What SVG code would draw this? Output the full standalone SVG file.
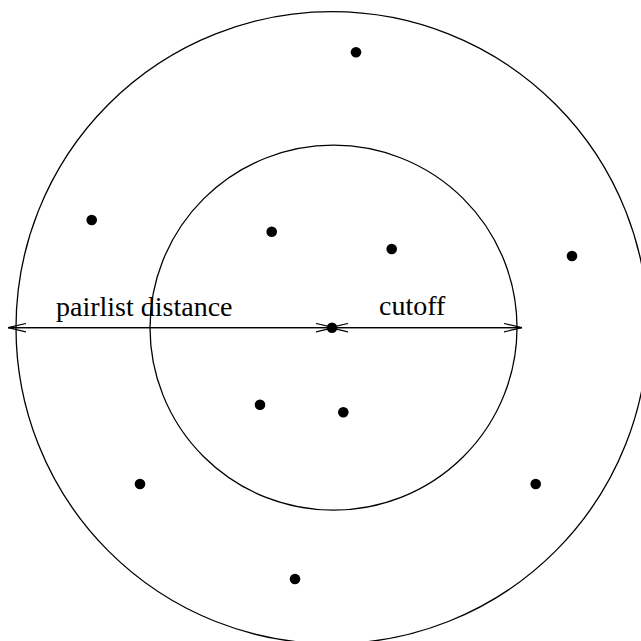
<svg xmlns="http://www.w3.org/2000/svg" width="641" height="641" viewBox="0 0 641 641">
<style>
.ring{fill:none;stroke:#000;stroke-width:1.3}
.pt{fill:#000}
.ln{stroke:#000;stroke-width:1.3;fill:none}
.lbl{font-family:"Liberation Serif","Times New Roman",serif;font-size:28px;fill:#000}
</style>
<defs>
<marker id="ah" viewBox="0 0 18 10" refX="18" refY="5" markerWidth="18" markerHeight="10" markerUnits="userSpaceOnUse" orient="auto">
<path d="M0,0.8 L18,5 L0,9.2" fill="none" stroke="#000" stroke-width="1.2"/>
</marker>
</defs>
<rect width="641" height="641" fill="#fff"/>
<g id="outer-circle"><circle class="ring" cx="332" cy="327.7" r="316"/></g>
<g id="inner-circle"><ellipse class="ring" cx="333.5" cy="327.7" rx="183.5" ry="182.5"/></g>
<g id="connectors">
<line class="ln" x1="332" y1="327.7" x2="8" y2="327.7" marker-end="url(#ah)"/>
<line class="ln" x1="8" y1="327.7" x2="334" y2="327.7" marker-end="url(#ah)"/>
<line class="ln" x1="332" y1="327.7" x2="522" y2="327.7" marker-end="url(#ah)"/>
<line class="ln" x1="522" y1="327.7" x2="330" y2="327.7" marker-end="url(#ah)"/>
</g>
<g id="points">
<circle class="pt" cx="356" cy="52.3" r="5.3"/>
<circle class="pt" cx="91.7" cy="220" r="5.3"/>
<circle class="pt" cx="271.7" cy="231.7" r="5.3"/>
<circle class="pt" cx="391.7" cy="249" r="5.3"/>
<circle class="pt" cx="572" cy="256" r="5.3"/>
<circle class="pt" cx="332" cy="327.7" r="5.3"/>
<circle class="pt" cx="260" cy="404.7" r="5.3"/>
<circle class="pt" cx="343.3" cy="412.3" r="5.3"/>
<circle class="pt" cx="140" cy="484" r="5.3"/>
<circle class="pt" cx="535.7" cy="484" r="5.3"/>
<circle class="pt" cx="295" cy="579" r="5.3"/>
</g>
<g id="labels">
<text class="lbl" x="56" y="316">pairlist distance</text>
<text class="lbl" x="379" y="315">cutoff</text>
</g>
</svg>
